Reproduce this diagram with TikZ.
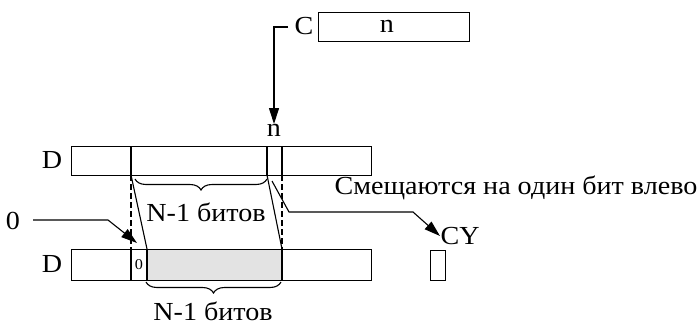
\documentclass[tikz,border=0pt]{standalone}
\usepackage{fontspec}
\setmainfont[FakeStretch=1.08]{Liberation Serif}
\usetikzlibrary{arrows.meta,decorations.pathreplacing}
\begin{document}
\begin{tikzpicture}[x=1pt,y=-1pt,line width=1.1pt,
  lbl/.style={inner sep=0pt,font=\fontsize{26}{30}\selectfont},
  smalllbl/.style={inner sep=0pt,font=\fontsize{15}{17}\selectfont},
  box/.style={draw,inner sep=0pt},
  dsh/.style={dash pattern=on 6pt off 3pt},
  arr/.style={-{Triangle[length=16pt,width=10pt]}},
  brc/.style={decorate,decoration={brace,amplitude=11pt}}]
\useasboundingbox (0,0) rectangle (698,325);
% C register
\node[box,minimum width=151pt,minimum height=29pt,anchor=north west] (C) at (318,12) {};
\node[lbl] (Cn) at (387,26) {n};
\node[lbl] (Clbl) at (304,26) {C};
\coordinate (cstart) at (288,27);
\coordinate (cbend) at (274,27);
\node[lbl,anchor=north] (nlbl) at (274,124) {n};
\draw[arr] (cstart) -- (cbend) -- (nlbl.north);
% upper D register
\node[box,minimum width=300pt,minimum height=29pt,anchor=north west] (D1) at (71,146) {};
\node[lbl] (D1lbl) at (52,160) {D};
\coordinate (u1t) at (131,146); \coordinate (u1b) at (131,175);
\coordinate (u2t) at (267,146); \coordinate (u2b) at (267,175);
\coordinate (u3t) at (282,146); \coordinate (u3b) at (282,175);
\draw (u1t) -- (u1b) (u2t) -- (u2b) (u3t) -- (u3b);
% lower D register
\fill[gray!22] (147,249) rectangle (282,280);
\node[box,minimum width=300pt,minimum height=31pt,anchor=north west] (D2) at (71,249) {};
\node[lbl] (D2lbl) at (52,264) {D};
\coordinate (l1t) at (131,249); \coordinate (l1b) at (131,280);
\coordinate (l2t) at (147,249); \coordinate (l2b) at (147,280);
\coordinate (l3t) at (282,249); \coordinate (l3b) at (282,280);
\draw (l1t) -- (l1b) (l2t) -- (l2b) (l3t) -- (l3b);
\node[smalllbl] (zero) at (139,265) {0};
% dashed and slanted lines
\draw[dsh] (u1b) -- (l1t);
\draw[dsh] (u3b) -- (l3t);
\draw (u1b) -- (l2t);
\draw (u2b) -- (l3t);
% braces
\draw[brc] (267,179) -- (135,179);
\node[lbl] (N1) at (206,212) {N-1 битов};
\draw[brc] (281,282) -- (146,282);
\node[lbl] (N2) at (213,311) {N-1 битов};
% zero input
\node[lbl] (zlbl) at (13,221) {0};
\coordinate (z1) at (33,220);
\coordinate (z2) at (108,220);
\coordinate (z3) at (137,243);
\draw[arr] (z1) -- (z2) -- (z3);
% carry
\node[lbl,anchor=west] (shift) at (334,188) {Смещаются на один бит влево};
\coordinate (c1) at (272,181);
\coordinate (c2) at (289,212);
\coordinate (c3) at (413,212);
\node[lbl,anchor=west] (CY) at (440,236) {CY};
\draw[arr] (c1) -- (c2) -- (c3) -- (CY.west);
\node[box,minimum width=15pt,minimum height=30pt,anchor=north west] (CYbox) at (430,250) {};
\end{tikzpicture}
\end{document}
